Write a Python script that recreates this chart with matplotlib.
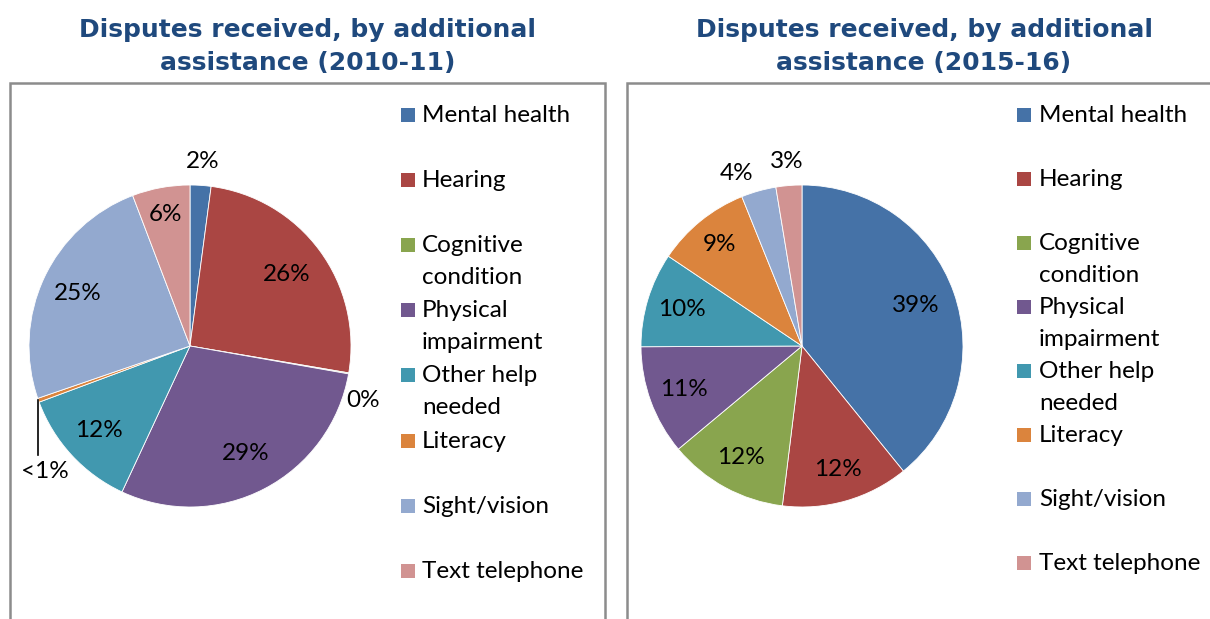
import numpy as np
import matplotlib
matplotlib.use('Agg')
import matplotlib.pyplot as plt
from matplotlib.patches import Rectangle

W, H = 1210, 619

# data (clockwise from 12 o'clock)
categories = ['Mental health', 'Hearing', 'Cognitive condition', 'Physical impairment',
              'Other help needed', 'Literacy', 'Sight/vision', 'Text telephone']
legend_labels = ['Mental health', 'Hearing', 'Cognitive\ncondition', 'Physical\nimpairment',
                 'Other help\nneeded', 'Literacy', 'Sight/vision', 'Text telephone']
colors = ['#4572A7', '#AA4643', '#89A54E', '#71588F', '#4198AF', '#DB843D', '#93A9CF', '#D19392']

share_2010 = [2.1, 25.6, 0.1, 29.2, 12.4, 0.4, 24.5, 5.8]
labels_2010 = ['2%', '26%', '0%', '29%', '12%', '<1%', '25%', '6%']

share_2015 = [39.2, 12.8, 12.0, 11.0, 9.5, 9.5, 3.5, 2.6]
labels_2015 = ['39%', '12%', '12%', '11%', '10%', '9%', '4%', '3%']

titles = ['Disputes received, by additional\nassistance (2010-11)',
          'Disputes received, by additional\nassistance (2015-16)']

TITLE_COLOR = '#1F497D'
FRAME_COLOR = '#8C8C8C'
FONT = ['Lato', 'DejaVu Sans']
FS = 17.5


def fx(px):
    return px / W


def fy(py):
    return 1 - py / H


fig = plt.figure(figsize=(W / 100, H / 100), dpi=100)

panels = [
    dict(values=share_2010, labels=labels_2010, frame=(10, 605), title_x=308, cx=190,
         dist=[1.15, 0.75, 1.13, 0.75, 0.77, None, 0.77, 0.83],
         nudge={2: (-6, 24)}, leg_sq=401, leg_txt=422, leg_step=65.1),
    dict(values=share_2015, labels=labels_2015, frame=(627, 1212), title_x=924, cx=802,
         dist=[0.75, 0.8, 0.79, 0.78, 0.78, 0.81, 1.17, 1.15],
         nudge={6: (-15, 9)}, leg_sq=1017, leg_txt=1039, leg_step=64.0),
]

CY, R = 346, 161

for p, title in zip(panels, titles):
    # grey frame round each chart (bottom runs off the image)
    x0, x1 = p['frame']
    fig.patches.append(Rectangle((fx(x0), fy(640)), (x1 - x0) / W, (640 - 83) / H,
                                 transform=fig.transFigure, fill=False,
                                 edgecolor=FRAME_COLOR, linewidth=1.8))

    for j, line in enumerate(title.split('\n')):
        fig.text(fx(p['title_x']), fy(30 + j * 33), line, ha='center', va='center',
                 fontsize=18, fontweight='bold', color=TITLE_COLOR, family='DejaVu Sans')

    ax = fig.add_axes([fx(p['cx'] - R), fy(CY + R), 2 * R / W, 2 * R / H])
    wedges, _ = ax.pie(p['values'], colors=colors, startangle=90, counterclock=False,
                       radius=1, wedgeprops=dict(edgecolor='white', linewidth=0.6))
    ax.set_xlim(-1, 1)
    ax.set_ylim(-1, 1)

    for i, (w, lab) in enumerate(zip(wedges, p['labels'])):
        mid = np.deg2rad((w.theta1 + w.theta2) / 2)
        d = p['dist'][i]
        if d is None:
            # tiny slice: leader line straight down from the edge
            ex, ey = np.cos(mid), np.sin(mid)
            ax.plot([ex, ex], [ey, ey - 55 / R], color='black', lw=1.2, clip_on=False)
            ax.text(ex + 6 / R, ey - 71 / R, lab, ha='center', va='center',
                    fontsize=FS, family=FONT, clip_on=False)
            continue
        ndx, ndy = p['nudge'].get(i, (0, 0))
        ax.text(d * np.cos(mid) + ndx / R, d * np.sin(mid) - ndy / R, lab,
                ha='center', va='center', fontsize=FS, family=FONT, clip_on=False)

    # legend drawn by hand: Excel keeps a fixed step per entry
    for i, (lab, c) in enumerate(zip(legend_labels, colors)):
        base = 122 + i * p['leg_step']
        fig.patches.append(Rectangle((fx(p['leg_sq']), fy(base)), 14 / W, 14 / H,
                                     transform=fig.transFigure, facecolor=c,
                                     edgecolor='none'))
        for j, line in enumerate(lab.split('\n')):
            fig.text(fx(p['leg_txt']), fy(base + j * 32), line, ha='left', va='baseline',
                     fontsize=FS, family=FONT)

fig.savefig('out.png', dpi=100)
